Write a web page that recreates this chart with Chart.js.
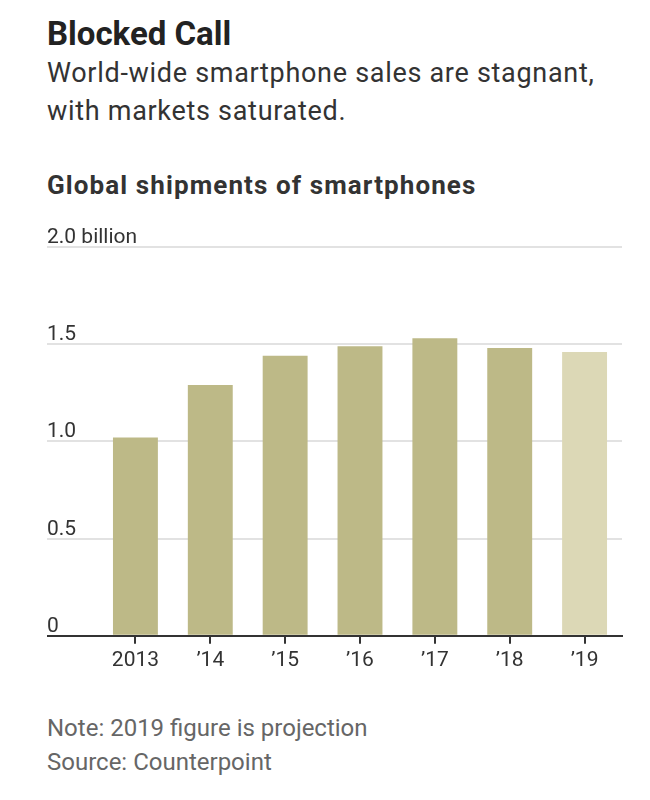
<!DOCTYPE html>
<html lang="en">

<head>
    <meta charset="UTF-8">
    <title>Blocked Call</title>
    <script src="https://cdn.jsdelivr.net/npm/chart.js"></script>
    <style>
        body {
            margin: 0;
            background: #fff;
            font-family: Roboto, sans-serif;
            width: 650px;
            height: 800px;
            position: relative;
        }

        .titulo {
            position: absolute;
            left: 47px;
            top: 17px;
            margin: 0;
            font: 700 33px/33px Roboto, sans-serif;
            color: #222;
        }

        .sub {
            position: absolute;
            left: 47px;
            top: 54px;
            margin: 0;
            font: 400 27px/38px Roboto, sans-serif;
            letter-spacing: 0.7px;
            color: #333;
        }

        .chartTitle {
            position: absolute;
            left: 47px;
            top: 172px;
            margin: 0;
            font: 700 26px/26px Roboto, sans-serif;
            letter-spacing: 1.1px;
            color: #333;
        }

        .grafico {
            position: absolute;
            left: 0;
            top: 220px;
        }

        .nota {
            position: absolute;
            left: 47px;
            top: 711px;
            margin: 0;
            font: 400 24px/34px Roboto, sans-serif;
            color: #666;
        }
    </style>
</head>

<body>
    <h1 class="titulo">Blocked Call</h1>
    <p class="sub">World-wide smartphone sales are stagnant,<br>with markets saturated.</p>
    <h3 class="chartTitle">Global shipments of smartphones</h3>
    <canvas id="myChart" class="grafico" width="650" height="470"></canvas>
    <p class="nota">Note: 2019 figure is projection<br>Source: Counterpoint</p>
</body>

</html>
<script>
    // dados (bilhoes de unidades)
    const anos = ['2013', '\u201914', '\u201915', '\u201916', '\u201917', '\u201918', '\u201919'];
    const embarques = [1.02, 1.29, 1.44, 1.49, 1.53, 1.48, 1.46];
    const yTicks = [0, 0.5, 1.0, 1.5, 2.0];
    const yTickLabels = ['0', '0.5', '1.0', '1.5', '2.0 billion'];
    const projecao = '\u201919';

    const corBarra = '#bdb987';
    const corProjecao = '#dcd8b6';

    // rotulos do eixo y ficam em cima das linhas de grade
    const rotulosY = {
        id: 'rotulosY',
        afterDraw(chart) {
            const y = chart.scales.y;
            const ctx = chart.ctx;
            ctx.save();
            ctx.font = '400 21px Roboto, sans-serif';
            ctx.fillStyle = '#333';
            ctx.textAlign = 'left';
            ctx.textBaseline = 'alphabetic';
            for (let i = 0; i < yTicks.length; i++) {
                ctx.fillText(yTickLabels[i], 47, y.getPixelForValue(yTicks[i]) - 4);
            }
            ctx.restore();
        }
    };

    const ctxChart = document.getElementById('myChart');

    new Chart(ctxChart, {
        type: 'bar',
        data: {
            labels: anos,
            datasets: [{
                label: 'Shipments',
                data: embarques,
                backgroundColor: (c) => anos[c.dataIndex] === projecao ? corProjecao : corBarra,
                borderWidth: 0,
                barPercentage: 0.6,
                categoryPercentage: 1
            }]
        },
        options: {
            responsive: false,
            animation: false,
            layout: {
                padding: { left: 47, right: 28, top: 27, bottom: 13 }
            },
            plugins: {
                legend: { display: false },
                tooltip: { enabled: false }
            },
            scales: {
                x: {
                    grid: {
                        display: true,
                        drawOnChartArea: false,
                        drawTicks: true,
                        tickLength: 8,
                        offset: false,
                        color: '#333',
                        lineWidth: 2
                    },
                    border: { display: true, color: '#333', width: 2 },
                    ticks: {
                        color: '#333',
                        font: { family: 'Roboto', size: 21 },
                        padding: 4
                    }
                },
                y: {
                    min: 0,
                    max: 2,
                    afterBuildTicks: (axis) => {
                        axis.ticks = yTicks.map(v => ({ value: v }));
                    },
                    grid: {
                        color: (c) => c.tick && c.tick.value === 0 ? '#333' : '#e2e2e2',
                        lineWidth: 2,
                        drawTicks: true,
                        tickLength: 51
                    },
                    border: { display: false },
                    ticks: { display: false }
                }
            }
        },
        plugins: [rotulosY]
    });
</script>
